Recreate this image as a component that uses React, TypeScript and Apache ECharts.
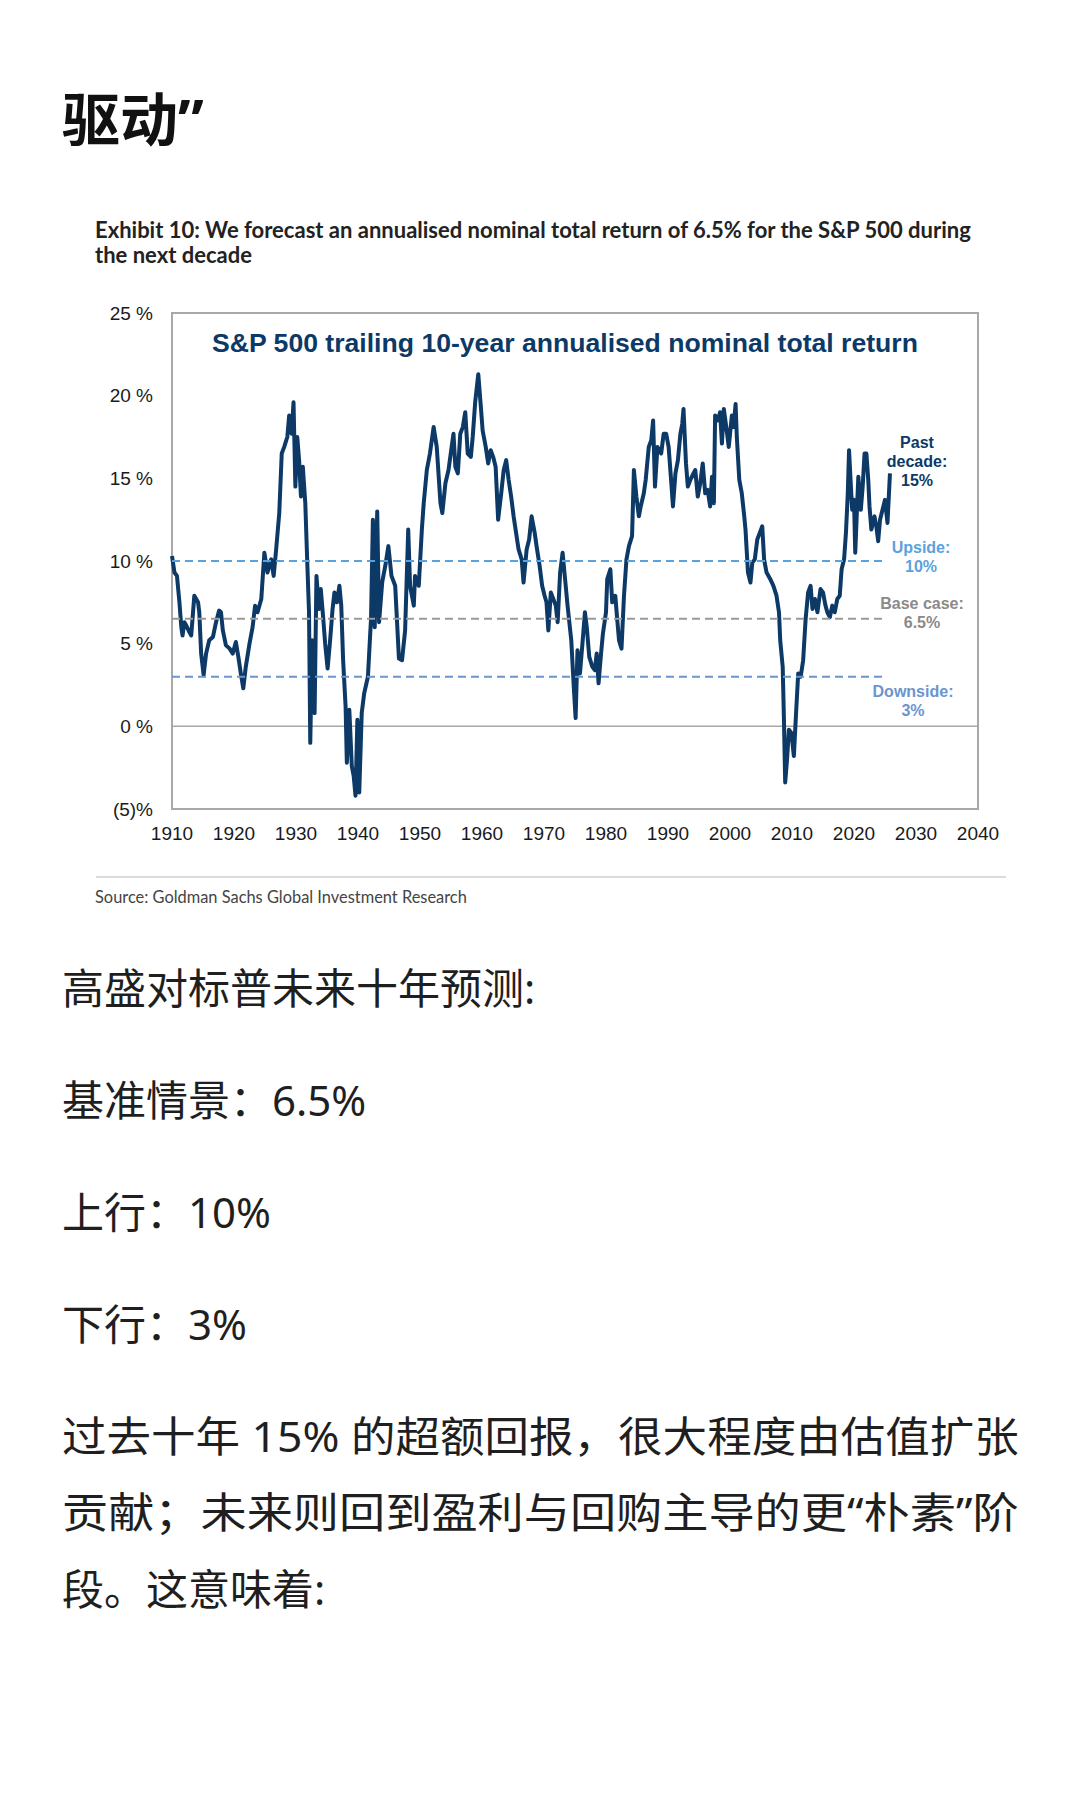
import React, { useEffect, useRef } from "react";
import * as echarts from "echarts";

// ---- Data ----
const years = [
  1910.0, 1910.4, 1910.8, 1911.2, 1911.5, 1911.7, 1912.0, 1912.3, 1912.8, 1913.1,
  1913.6, 1914.2, 1914.4, 1914.7, 1915.1, 1915.5, 1916.0, 1916.6, 1917.1, 1917.6,
  1917.9, 1918.2, 1918.7, 1919.3, 1919.8, 1920.3, 1920.7, 1921.1, 1921.5, 1921.9,
  1922.5, 1923.0, 1923.4, 1923.8, 1924.4, 1924.9, 1925.4, 1926.0, 1926.4, 1926.8,
  1927.3, 1927.7, 1928.1, 1928.6, 1928.9, 1929.3, 1929.6, 1929.9, 1930.2, 1930.5,
  1930.8, 1931.1, 1931.5, 1931.8, 1932.1, 1932.3, 1932.6, 1933.0, 1933.3, 1933.7,
  1934.0, 1934.4, 1934.7, 1935.1, 1935.5, 1935.9, 1936.2, 1936.6, 1937.0, 1937.3,
  1937.6, 1938.0, 1938.2, 1938.6, 1939.0, 1939.3, 1939.6, 1939.9, 1940.2, 1940.6,
  1941.0, 1941.6, 1942.1, 1942.4, 1942.7, 1943.1, 1943.4, 1943.9, 1944.4, 1944.9,
  1945.4, 1946.0, 1946.3, 1946.6, 1947.1, 1947.6, 1948.1, 1948.4, 1949.0, 1949.2,
  1949.8, 1950.3, 1950.6, 1951.1, 1951.6, 1952.2, 1952.7, 1953.3, 1953.6, 1954.1,
  1954.6, 1955.1, 1955.4, 1955.7, 1956.1, 1956.5, 1956.9, 1957.3, 1957.7, 1958.2,
  1958.5, 1958.9, 1959.4, 1959.8, 1960.1, 1960.6, 1961.0, 1961.4, 1961.8, 1962.2,
  1962.6, 1963.1, 1963.5, 1963.9, 1964.3, 1964.7, 1965.1, 1965.5, 1965.9, 1966.4,
  1966.7, 1967.2, 1967.6, 1968.0, 1968.5, 1968.8, 1969.3, 1969.7, 1970.1, 1970.4,
  1970.7, 1971.1, 1971.5, 1971.9, 1972.2, 1972.6, 1973.0, 1973.4, 1973.8, 1974.4,
  1974.8, 1975.1, 1975.4, 1975.8, 1976.2, 1976.6, 1976.9, 1977.3, 1977.8, 1978.2,
  1978.5, 1978.8, 1979.2, 1979.5, 1980.0, 1980.2, 1980.7, 1981.0, 1981.5, 1981.8,
  1982.1, 1982.5, 1982.9, 1983.3, 1983.7, 1984.2, 1984.5, 1984.9, 1985.3, 1985.6,
  1986.1, 1986.4, 1986.9, 1987.3, 1987.6, 1987.9, 1988.3, 1988.9, 1989.3, 1989.7,
  1990.1, 1990.5, 1990.8, 1991.2, 1991.6, 1992.0, 1992.3, 1992.5, 1992.9, 1993.2,
  1993.6, 1994.1, 1994.4, 1994.8, 1995.2, 1995.6, 1996.0, 1996.4, 1996.8, 1997.1,
  1997.4, 1997.6, 1998.0, 1998.4, 1998.7, 1999.0, 1999.4, 1999.8, 2000.3, 2000.6,
  2000.9, 2001.1, 2001.5, 2001.9, 2002.3, 2002.5, 2002.9, 2003.3, 2003.6, 2004.0,
  2004.4, 2004.8, 2005.2, 2005.5, 2005.9, 2006.5, 2007.0, 2007.5, 2007.9, 2008.1,
  2008.5, 2008.7, 2008.9, 2009.2, 2009.5, 2009.9, 2010.3, 2010.6, 2011.0, 2011.4,
  2011.8, 2012.2, 2012.6, 2013.0, 2013.3, 2013.7, 2014.1, 2014.6, 2015.0, 2015.4,
  2015.7, 2016.1, 2016.5, 2016.9, 2017.3, 2017.7, 2018.0, 2018.4, 2018.7, 2019.0,
  2019.2, 2019.5, 2019.7, 2020.0, 2020.2, 2020.5, 2020.7, 2021.1, 2021.4, 2021.7,
  2022.0, 2022.3, 2022.5, 2022.8, 2023.3, 2023.6, 2023.9, 2024.2, 2024.6, 2025.0,
  2025.4, 2025.8,
];

const returns = [
  10.3, 9.3, 9.1, 7.5, 6.0, 5.5, 6.3, 6.1, 5.7, 5.5,
  7.9, 7.5, 6.9, 4.4, 3.1, 4.4, 5.2, 5.4, 6.3, 7.0,
  6.9, 5.8, 4.9, 4.7, 4.4, 5.1, 4.2, 3.2, 2.3, 3.6,
  5.0, 6.0, 7.3, 6.9, 7.7, 10.5, 9.3, 10.1, 9.1, 10.7,
  12.9, 16.5, 16.9, 17.5, 18.8, 17.7, 19.6, 14.5, 17.5, 16.1,
  13.9, 15.7, 13.5, 10.1, 6.9, -1.0, 5.2, 0.8, 9.1, 7.1,
  8.3, 6.5, 5.0, 3.5, 5.2, 7.1, 8.1, 7.5, 8.5, 7.3,
  4.0, 1.2, -2.2, 1.0, -2.4, -3.0, -4.2, 0.4, -4.0, 0.8,
  2.0, 3.0, 6.5, 12.5, 6.0, 13.0, 6.3, 8.7, 9.7, 10.9,
  9.1, 8.5, 6.3, 4.1, 4.0, 5.8, 11.9, 8.5, 7.3, 9.1,
  8.5, 11.9, 13.5, 15.5, 16.5, 18.1, 16.9, 13.5, 12.9, 14.7,
  15.5, 16.9, 17.7, 15.7, 15.3, 17.7, 18.1, 19.0, 16.5, 16.3,
  17.5, 19.6, 21.3, 19.4, 17.9, 16.9, 15.9, 16.7, 16.3, 15.7,
  12.5, 14.1, 15.5, 16.1, 14.9, 13.9, 12.7, 11.7, 10.7, 10.1,
  8.7, 10.7, 11.3, 12.7, 11.7, 10.9, 9.7, 8.5, 7.9, 7.5,
  5.8, 8.1, 7.7, 7.3, 6.3, 9.3, 10.5, 8.9, 7.3, 5.2,
  2.4, 0.5, 4.6, 3.2, 5.0, 6.9, 6.0, 4.2, 3.6, 3.4,
  4.4, 2.6, 4.4, 5.6, 6.9, 8.9, 9.5, 7.5, 7.9, 6.5,
  5.2, 4.7, 7.9, 10.1, 10.9, 11.5, 15.5, 13.9, 12.7, 13.3,
  14.1, 14.9, 16.9, 17.3, 18.5, 14.5, 16.9, 16.5, 17.7, 17.7,
  16.9, 14.9, 13.3, 15.3, 16.1, 17.7, 18.3, 19.2, 15.9, 14.5,
  14.9, 15.3, 15.5, 13.9, 14.7, 15.9, 14.1, 14.3, 13.3, 15.1,
  13.5, 18.8, 18.5, 19.0, 17.1, 19.2, 18.1, 16.9, 18.8, 18.1,
  19.5, 17.5, 14.9, 14.1, 12.7, 11.9, 9.3, 8.7, 9.9, 10.1,
  11.3, 11.7, 12.1, 10.1, 9.3, 8.9, 8.5, 7.9, 6.9, 5.2,
  3.6, 0.4, -3.4, -2.0, -0.2, -0.4, -1.8, 0.4, 3.2, 3.0,
  4.0, 6.5, 8.1, 8.5, 7.1, 7.7, 6.9, 8.3, 8.1, 7.3,
  6.9, 6.6, 7.3, 6.9, 7.7, 7.9, 9.5, 10.1, 11.7, 14.1,
  16.7, 14.5, 13.1, 13.7, 10.5, 13.3, 15.1, 13.1, 14.5, 16.5,
  16.5, 14.9, 13.3, 11.9, 12.7, 12.1, 11.2, 12.5, 13.1, 13.7,
  12.3, 15.3,
];

const xMin = 1910;
const xMax = 2040;
const xStep = 10;
const yMin = -5;
const yMax = 25;
const yStep = 5;

const upsideLevel = 10;
const baseLevel = 6.5;
const downsideLevel = 3;
const scenarioEnd = 2025;

const chartTitle = "S&P 500 trailing 10-year annualised nominal total return";
const pageHeading = "驱动”";
const exhibitLines = [
  "Exhibit 10: We forecast an annualised nominal total return of 6.5% for the S&P 500 during",
  "the next decade",
];
const sourceText = "Source: Goldman Sachs Global Investment Research";
const bodyLines = [
  "高盛对标普未来十年预测:",
  "基准情景：6.5%",
  "上行：10%",
  "下行：3%",
  "过去十年 15% 的超额回报，很大程度由估值扩张",
  "贡献；未来则回到盈利与回购主导的更“朴素”阶",
  "段。这意味着:",
];
const bodyY = [987, 1099, 1211, 1323, 1436, 1512, 1588];
const bodyJustified = [false, false, false, false, true, true, false];

const NAVY = "#0c3966";
const UP_BLUE = "#5aa2de";
const BASE_GRAY = "#9a9a9a";
const DOWN_BLUE = "#6a95cf";

const BODY_FONT = '"Noto Sans", "Noto Sans CJK SC", sans-serif';
const BODY_SIZE = 42;
const BODY_LEFT = 62;
const BODY_RIGHT = 1019;

function measure(text: string, font: string): number {
  const c = document.createElement("canvas");
  const ctx = c.getContext("2d");
  if (!ctx) return 0;
  ctx.font = font;
  return ctx.measureText(text).width;
}

export default function App() {
  const ref = useRef<HTMLDivElement>(null);

  useEffect(() => {
    if (!ref.current) return;
    const chart = echarts.init(ref.current, null, { renderer: "svg" });
    const mainData = years.map((y, i) => [y, returns[i]]);
    const hline = (v: number, end: number) => [
      [xMin, v],
      [end, v],
    ];
    const dashed = (name: string, v: number, color: string) => ({
      name,
      type: "line",
      data: hline(v, scenarioEnd),
      showSymbol: false,
      silent: true,
      lineStyle: { color, width: 2, type: [8, 5] },
      z: 5,
    });

    const cjkHead = '"Noto Sans", "Noto Sans CJK SC", sans-serif';
    const arial = '"Liberation Sans", Arial, sans-serif';

    const bodyGraphics = bodyLines.map((t, i) => {
      let sx = 1;
      if (bodyJustified[i]) {
        const w = measure(t, `${BODY_SIZE}px ${BODY_FONT}`);
        if (w > 0) sx = (BODY_RIGHT - BODY_LEFT) / w;
      }
      return {
        type: "text",
        x: BODY_LEFT,
        y: bodyY[i],
        scaleX: sx,
        style: {
          text: t,
          fontFamily: BODY_FONT,
          fontSize: BODY_SIZE,
          fill: "#1f1f1f",
          textVerticalAlign: "middle",
        },
      };
    });

    chart.setOption({
      animation: false,
      backgroundColor: "#ffffff",
      grid: {
        left: 172,
        top: 313,
        width: 806,
        height: 496,
        show: true,
        borderColor: "#a8a8a8",
        borderWidth: 2,
        backgroundColor: "transparent",
      },
      xAxis: {
        type: "value",
        min: xMin,
        max: xMax,
        interval: xStep,
        axisLine: { show: false },
        axisTick: { show: false },
        splitLine: { show: false },
        axisLabel: {
          fontFamily: arial,
          fontSize: 19,
          color: "#1a1a1a",
          margin: 15,
          showMinLabel: true,
          showMaxLabel: true,
          formatter: (v: number) => String(v),
        },
      },
      yAxis: {
        type: "value",
        min: yMin,
        max: yMax,
        interval: yStep,
        axisLine: { show: false },
        axisTick: { show: false },
        splitLine: { show: false },
        axisLabel: {
          fontFamily: arial,
          fontSize: 19,
          color: "#1a1a1a",
          margin: 19,
          formatter: (v: number) => (v < 0 ? `(${-v})%` : `${v} %`),
        },
      },
      series: [
        {
          name: "zero",
          type: "line",
          data: hline(0, xMax),
          showSymbol: false,
          silent: true,
          lineStyle: { color: "#a8a8a8", width: 1.5 },
          z: 1,
        },
        {
          name: "S&P 500 trailing 10-year return",
          type: "line",
          data: mainData,
          showSymbol: false,
          lineStyle: { color: NAVY, width: 4, join: "round" },
          z: 3,
        },
        dashed("Upside", upsideLevel, UP_BLUE),
        dashed("Base case", baseLevel, BASE_GRAY),
        dashed("Downside", downsideLevel, DOWN_BLUE),
      ],
      graphic: [
        {
          type: "text",
          x: 62,
          y: 118,
          style: {
            text: pageHeading,
            fontFamily: cjkHead,
            fontWeight: "bold",
            fontSize: 58,
            fill: "#111111",
            textVerticalAlign: "middle",
          },
        },
        {
          type: "text",
          x: 95,
          y: 242,
          style: {
            text: exhibitLines.join("\n"),
            fontFamily: "Lato, sans-serif",
            fontWeight: "bold",
            fontSize: 22,
            lineHeight: 25.5,
            fill: "#222222",
            textVerticalAlign: "middle",
          },
        },
        {
          type: "text",
          x: 212,
          y: 343,
          style: {
            text: chartTitle,
            fontFamily: arial,
            fontWeight: "bold",
            fontSize: 26.6,
            fill: NAVY,
            textVerticalAlign: "middle",
          },
        },
        {
          type: "text",
          x: 917,
          y: 461,
          style: {
            text: "Past\ndecade:\n15%",
            fontFamily: arial,
            fontWeight: "bold",
            fontSize: 16,
            lineHeight: 19,
            fill: NAVY,
            textAlign: "center",
            textVerticalAlign: "middle",
          },
        },
        {
          type: "text",
          x: 921,
          y: 557,
          style: {
            text: "Upside:\n10%",
            fontFamily: arial,
            fontWeight: "bold",
            fontSize: 16,
            lineHeight: 19,
            fill: UP_BLUE,
            textAlign: "center",
            textVerticalAlign: "middle",
          },
        },
        {
          type: "text",
          x: 922,
          y: 613,
          style: {
            text: "Base case:\n6.5%",
            fontFamily: arial,
            fontWeight: "bold",
            fontSize: 16,
            lineHeight: 19,
            fill: "#8a8a8a",
            textAlign: "center",
            textVerticalAlign: "middle",
          },
        },
        {
          type: "text",
          x: 913,
          y: 701,
          style: {
            text: "Downside:\n3%",
            fontFamily: arial,
            fontWeight: "bold",
            fontSize: 16,
            lineHeight: 19,
            fill: DOWN_BLUE,
            textAlign: "center",
            textVerticalAlign: "middle",
          },
        },
        {
          type: "line",
          shape: { x1: 96, y1: 877, x2: 1006, y2: 877 },
          style: { stroke: "#cfcfcf", lineWidth: 1.5 },
        },
        {
          type: "text",
          x: 95,
          y: 896,
          style: {
            text: sourceText,
            fontFamily: "Lato, sans-serif",
            fontSize: 16.4,
            fill: "#444444",
            textVerticalAlign: "middle",
          },
        },
        ...bodyGraphics,
      ],
    });
    return () => chart.dispose();
  }, []);

  return (
    <div
      ref={ref}
      style={{
        position: "absolute",
        left: 0,
        top: 0,
        width: 1080,
        height: 1800,
        background: "#ffffff",
      }}
    />
  );
}
